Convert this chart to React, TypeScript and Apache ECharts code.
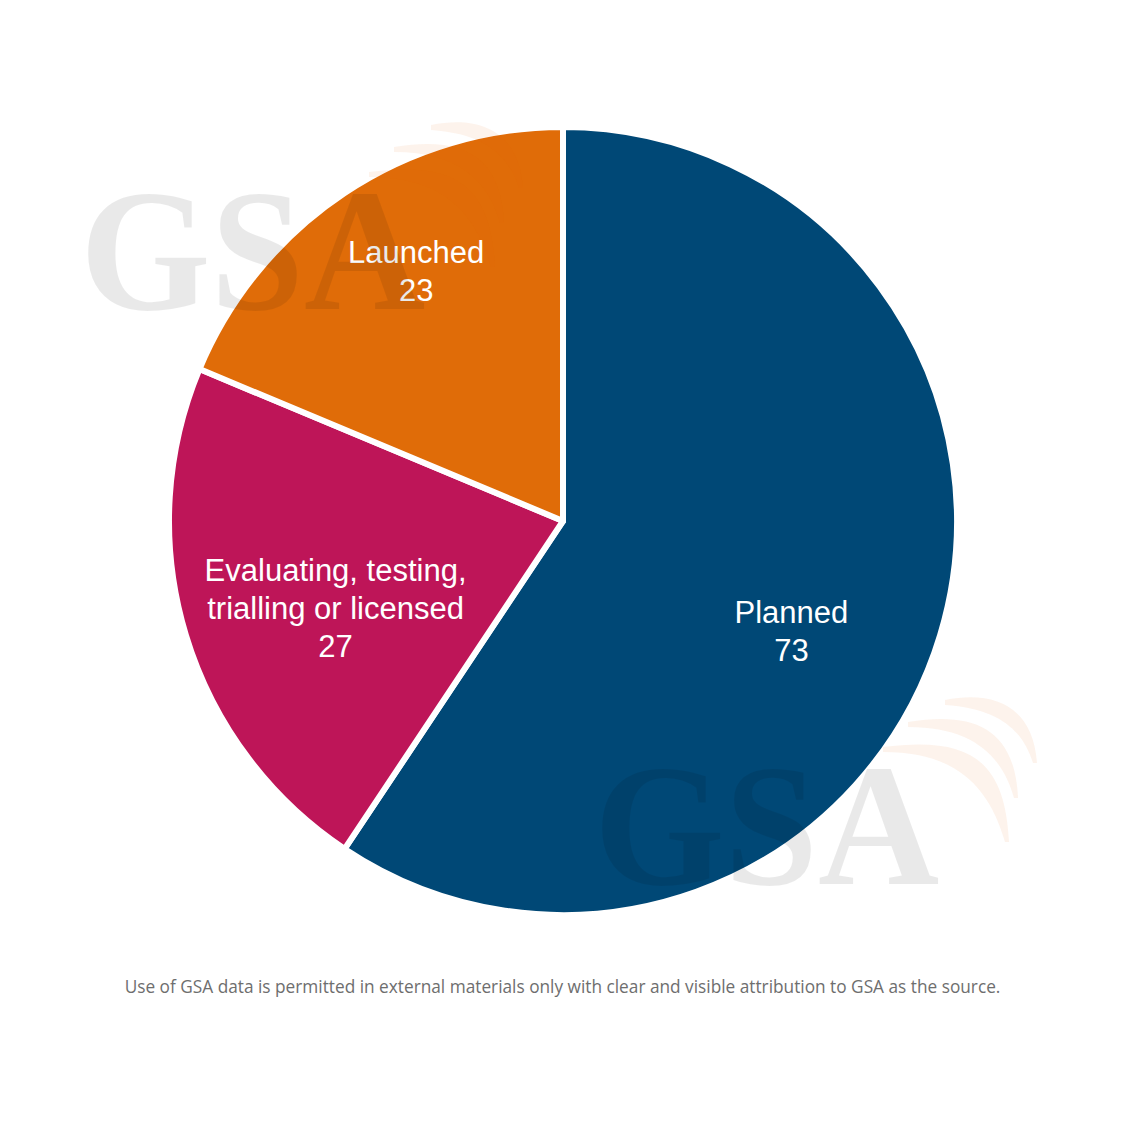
import { useEffect, useRef } from 'react'
import * as echarts from 'echarts'

const stages = ['Planned', 'Evaluating, testing,\ntrialling or licensed', 'Launched']
const counts = [73, 27, 23]
const colors = ['#004876', '#BE1558', '#E06C08']
// nudges from the slice mid radius to where the source puts its labels
const labelDx = [37, -36, -36]
const labelDy = [53, 30, -83]
const footnote = 'Use of GSA data is permitted in external materials only with clear and visible attribution to GSA as the source.'

// signal arcs of the watermark, relative to the top left of the "G"
const arcsPath =
  'M348 -67C398 -77 436 -60 440 -4L436 -4C426 -35 405 -58 348 -62Z' +
  'M311 -45C378 -56 418 -38 421 31L417 31C405 -12 375 -40 311 -40Z' +
  'M286 -20C372 -31 408 -8 412 75L408 75C392 20 360 -15 286 -15Z'

echarts.graphic.registerShape('gsaArcs', echarts.graphic.extendPath(arcsPath, {}))

const watermark = (x: number, y: number) => ({
  type: 'group',
  x,
  y,
  silent: true,
  children: [
    {
      type: 'text',
      x: -3,
      y: -29,
      scaleX: 0.965,
      z: 20,
      silent: true,
      style: {
        text: 'GSA',
        font: 'bold 174px "Liberation Serif"',
        fill: '#000',
        opacity: 0.085
      }
    },
    {
      type: 'gsaArcs',
      x: 0,
      y: 0,
      z: 20,
      silent: true,
      style: { fill: '#E06C08', opacity: 0.08 }
    }
  ]
})

export default function App() {
  const chartRef = useRef<HTMLDivElement>(null)

  useEffect(() => {
    if (!chartRef.current) return

    const chart = echarts.init(chartRef.current, null, { renderer: 'svg' })

    chart.setOption({
      animation: false,
      backgroundColor: '#ffffff',
      title: {
        text: footnote,
        left: 'center',
        top: 973,
        textStyle: {
          color: '#6e6e6e',
          fontFamily: '"Open Sans"',
          fontSize: 17.25,
          fontWeight: 'normal'
        }
      },
      graphic: [watermark(83, 192), watermark(597, 767)],
      series: [
        {
          type: 'pie',
          center: [563, 521],
          radius: [0, 394],
          startAngle: 90,
          clockwise: true,
          silent: true,
          data: stages.map((name, i) => ({
            name,
            value: counts[i],
            itemStyle: { color: colors[i] }
          })),
          itemStyle: {
            borderColor: '#ffffff',
            borderWidth: 6
          },
          label: {
            show: true,
            position: 'inside',
            formatter: '{b}\n{c}',
            color: '#ffffff',
            fontFamily: '"Liberation Sans"',
            fontSize: 31,
            lineHeight: 38
          },
          labelLine: { show: false },
          labelLayout: (params: any) => ({
            dx: labelDx[params.dataIndex],
            dy: labelDy[params.dataIndex]
          })
        }
      ]
    })

    return () => {
      chart.dispose()
    }
  }, [])

  return (
    <div
      ref={chartRef}
      style={{ position: 'absolute', left: 0, top: 0, width: 1125, height: 1125 }}
    />
  )
}
